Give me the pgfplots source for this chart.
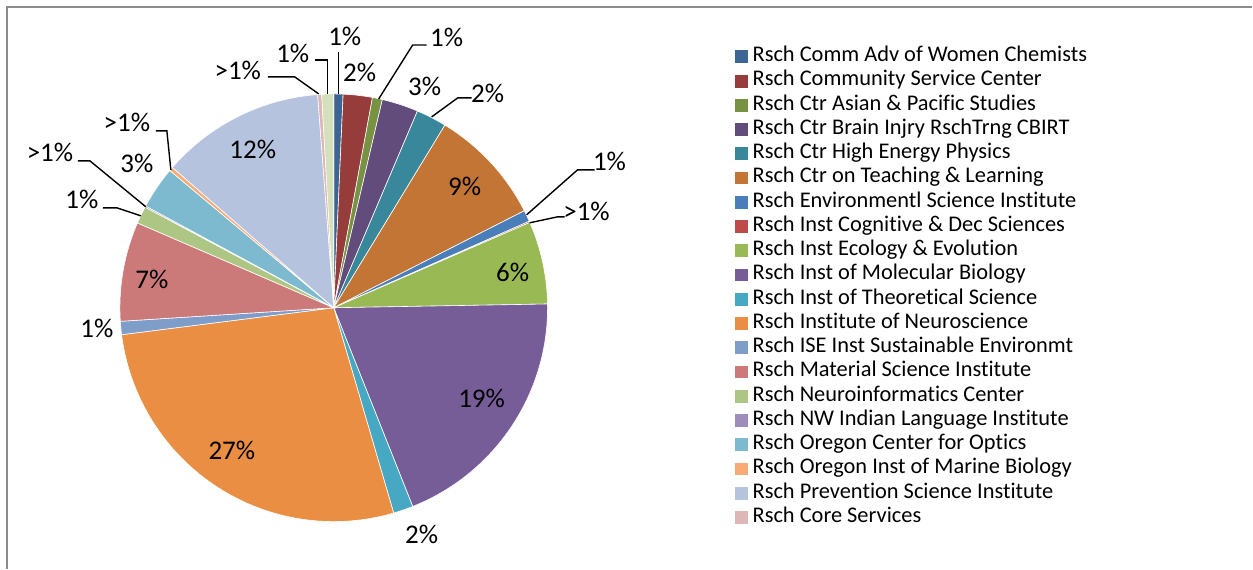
\documentclass[border=0pt]{standalone}
\usepackage{pgfplots}
\pgfplotsset{compat=1.18}
\usepackage{pgfplotstable}
\usepackage{fontspec}
\setmainfont{Carlito}[Ligatures=NoCommon]
\definecolor{c1}{HTML}{3D6594}
\definecolor{c2}{HTML}{963C3A}
\definecolor{c3}{HTML}{779242}
\definecolor{c4}{HTML}{624C7C}
\definecolor{c5}{HTML}{38879A}
\definecolor{c6}{HTML}{C27535}
\definecolor{c7}{HTML}{4A7EBB}
\definecolor{c8}{HTML}{BE4B48}
\definecolor{c9}{HTML}{98B954}
\definecolor{c10}{HTML}{775D98}
\definecolor{c11}{HTML}{46A8C2}
\definecolor{c12}{HTML}{E98E42}
\definecolor{c13}{HTML}{7F9DC9}
\definecolor{c14}{HTML}{CB7A79}
\definecolor{c15}{HTML}{AEC683}
\definecolor{c16}{HTML}{9E8DBA}
\definecolor{c17}{HTML}{7DBAD0}
\definecolor{c18}{HTML}{F8AB76}
\definecolor{c19}{HTML}{B5C3DE}
\definecolor{c20}{HTML}{DDB6B6}
\definecolor{c21}{HTML}{D3E0BB}
\tikzset{lab/.style={font=\fontsize{13.5bp}{15bp}\selectfont, inner sep=0pt}}
\pgfplotstableread{
val col
0.70 c1
2.20 c2
0.75 c3
2.75 c4
2.30 c5
8.80 c6
0.86 c7
0.10 c8
6.25 c9
19.25 c10
1.50 c11
27.50 c12
1.00 c13
7.50 c14
1.30 c15
0.10 c16
3.20 c17
0.30 c18
12.40 c19
0.30 c20
0.90 c21
}\piedata
\begin{document}
\begin{tikzpicture}
\begin{axis}[
  scale only axis, width=626.5bp, height=284.5bp,
  xmin=0, xmax=1253, ymin=0, ymax=569, y dir=reverse,
  hide axis, clip=false,
  legend image code/.code={\fill[#1] (0bp,-3.2bp) rectangle (6.4bp,3.2bp);},
  legend cell align=left,
  legend style={at={(0.5866,0.922)}, anchor=north west, draw=none, fill=none,
    inner sep=0pt, row sep=0pt, column sep=2.5bp,
    font=\fontsize{11.2bp}{13bp}\selectfont,
    nodes={inner sep=0pt, text height=8.5bp, text depth=3.63bp}},
]
\path (axis cs:0,0) rectangle (axis cs:1253,569);
\draw[color=black!45, line width=1bp] (axis cs:7,569) -- (axis cs:7,7) -- (axis cs:1253,7);
\pgfmathsetmacro\total{0}
\pgfplotsforeachungrouped \i in {0,...,20}{%
  \pgfplotstablegetelem{\i}{val}\of\piedata
  \pgfmathsetmacro\total{\total+\pgfplotsretval}%
}
\def\cum{0}
\pgfplotsforeachungrouped \i in {0,...,20}{%
  \pgfplotstablegetelem{\i}{val}\of\piedata
  \let\sv\pgfplotsretval
  \pgfplotstablegetelem{\i}{col}\of\piedata
  \let\col\pgfplotsretval
  \pgfmathsetmacro\a{90-360*(\cum/\total)}%
  \pgfmathsetmacro\cum{\cum+\sv}%
  \pgfmathsetmacro\b{90-360*(\cum/\total)}%
  \edef\temp{\noexpand\fill[fill=\col, draw=white, line width=0.3bp] (axis cs:334,308) -- ++(\a:107bp) arc[start angle=\a, end angle=\b, radius=107bp] -- cycle;}%
  \temp
}
% leader lines
\draw[black, line width=0.7bp] (axis cs:339,94) -- (axis cs:339,52);
\draw[black, line width=0.7bp] (axis cs:379,99) -- (axis cs:413,45) -- (axis cs:427,45);
\draw[black, line width=0.7bp] (axis cs:432,117) -- (axis cs:458,98) -- (axis cs:472,98);
\draw[black, line width=0.7bp] (axis cs:527,215) -- (axis cs:578,170) -- (axis cs:595,170);
\draw[black, line width=0.7bp] (axis cs:530,223) -- (axis cs:558,217) -- (axis cs:565,217);
\draw[black, line width=0.7bp] (axis cs:141,216) -- (axis cs:117,208) -- (axis cs:103,208);
\draw[black, line width=0.7bp] (axis cs:146,207) -- (axis cs:90,161) -- (axis cs:78,161);
\draw[black, line width=0.7bp] (axis cs:171,170) -- (axis cs:167,131) -- (axis cs:156,131);
\draw[black, line width=0.7bp] (axis cs:319,94) -- (axis cs:295,77) -- (axis cs:268,77);
\draw[black, line width=0.7bp] (axis cs:328,94) -- (axis cs:328,60) -- (axis cs:315,60);
% labels
\node[lab] at (axis cs:345,36) {1\%};
\node[lab] at (axis cs:360,72) {2\%};
\node[lab] at (axis cs:447,37) {1\%};
\node[lab] at (axis cs:425,86) {3\%};
\node[lab] at (axis cs:488,93) {2\%};
\node[lab] at (axis cs:465,187) {9\%};
\node[lab] at (axis cs:610,162) {1\%};
\node[lab] at (axis cs:587,212) {>1\%};
\node[lab] at (axis cs:513,273) {6\%};
\node[lab] at (axis cs:482,399) {19\%};
\node[lab] at (axis cs:422,535) {2\%};
\node[lab] at (axis cs:232,451) {27\%};
\node[lab] at (axis cs:97,329) {1\%};
\node[lab] at (axis cs:152,280) {7\%};
\node[lab] at (axis cs:82,200) {1\%};
\node[lab] at (axis cs:50,153) {>1\%};
\node[lab] at (axis cs:137,164) {3\%};
\node[lab] at (axis cs:127,123) {>1\%};
\node[lab] at (axis cs:253,150) {12\%};
\node[lab] at (axis cs:238,70) {>1\%};
\node[lab] at (axis cs:293,53) {1\%};
% legend
\addlegendimage{fill=c1,draw=none}
\addlegendimage{fill=c2,draw=none}
\addlegendimage{fill=c3,draw=none}
\addlegendimage{fill=c4,draw=none}
\addlegendimage{fill=c5,draw=none}
\addlegendimage{fill=c6,draw=none}
\addlegendimage{fill=c7,draw=none}
\addlegendimage{fill=c8,draw=none}
\addlegendimage{fill=c9,draw=none}
\addlegendimage{fill=c10,draw=none}
\addlegendimage{fill=c11,draw=none}
\addlegendimage{fill=c12,draw=none}
\addlegendimage{fill=c13,draw=none}
\addlegendimage{fill=c14,draw=none}
\addlegendimage{fill=c15,draw=none}
\addlegendimage{fill=c16,draw=none}
\addlegendimage{fill=c17,draw=none}
\addlegendimage{fill=c18,draw=none}
\addlegendimage{fill=c19,draw=none}
\addlegendimage{fill=c20,draw=none}
\legend{Rsch Comm Adv of Women Chemists, Rsch Community Service Center, Rsch Ctr Asian \& Pacific Studies, Rsch Ctr Brain Injry RschTrng CBIRT, Rsch Ctr High Energy Physics, Rsch Ctr on Teaching \& Learning, Rsch Environmentl Science Institute, Rsch Inst Cognitive \& Dec Sciences, Rsch Inst Ecology \& Evolution, Rsch Inst of Molecular Biology, Rsch Inst of Theoretical Science, Rsch Institute of Neuroscience, Rsch ISE Inst Sustainable Environmt, Rsch Material Science Institute, Rsch Neuroinformatics Center, Rsch NW Indian Language Institute, Rsch Oregon Center for Optics, Rsch Oregon Inst of Marine Biology, Rsch Prevention Science Institute, Rsch Core Services}
\end{axis}
\end{tikzpicture}
\end{document}
